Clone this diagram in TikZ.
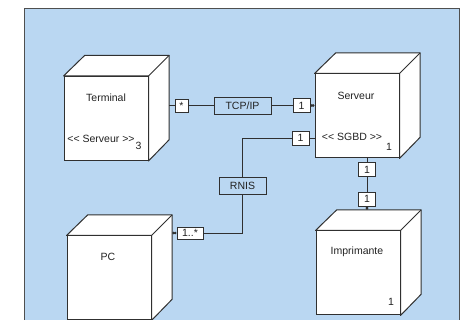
\documentclass[tikz,border=0pt]{standalone}
\usepackage{fontspec}
\setmainfont{Liberation Sans}
\usetikzlibrary{positioning,arrows.meta}
\definecolor{DiagBlue}{HTML}{BAD7F2}
\definecolor{DiagLine}{HTML}{303030}
\definecolor{DiagText}{HTML}{222222}

% one device: front face node #1, hidden back face #1back, centre (#2,#3)
\newcommand{\devicecube}[3]{%
  \node[face] (#1) at (#2,#3) {};
  \node[backface] (#1back) at ({#2+21},{#3-21}) {};
  \draw[draw=DiagLine,fill=white,line width=1pt,line join=round]
    (#1.north west) -- (#1back.north west) -- (#1back.north east)
    -- (#1back.south east) -- (#1.south east) -- (#1.north east) -- cycle;
  \draw[draw=DiagLine,line width=1pt] (#1.north east) -- (#1back.north east);
}

\begin{document}
\begin{tikzpicture}[x=1pt,y=-1pt,
  font=\fontsize{10.5}{12}\selectfont,text=DiagText,
  face/.style={draw=DiagLine,fill=white,line width=1pt,minimum width=84pt,minimum height=84pt,inner sep=0pt},
  backface/.style={minimum width=84pt,minimum height=84pt,inner sep=0pt},
  multbox/.style={draw=DiagLine,fill=white,line width=0.9pt,minimum width=17pt,minimum height=14pt,inner sep=1pt},
  linkbox/.style={draw=DiagLine,fill=DiagBlue,line width=0.9pt,minimum width=57pt,minimum height=17pt,inner sep=1pt},
  link/.style={draw=DiagLine,line width=0.9pt,{Circle[length=2.6pt]}-{Circle[length=2.6pt]}}]
  \useasboundingbox (0,0) rectangle (464,320);
  \draw[fill=DiagBlue,draw=DiagLine!85,line width=0.9pt] (24,8) rectangle (459,336);

  % devices
  \devicecube{term}{106}{118.5}
  \devicecube{serv}{357}{116}
  \devicecube{impr}{358}{273}
  \devicecube{pc}{109}{278}

  \node (termname) at (106,97.5) {Terminal};
  \node (termstereo) at (101,139) {<{}< Serveur >{}>};
  \node (termcount) at (138.5,146) {3};
  \node (servname) at (356,95.5) {Serveur};
  \node (servstereo) at (352,137) {<{}< SGBD >{}>};
  \node (servcount) at (389,146.5) {1};
  \node (imprname) at (357,252) {Imprimante};
  \node (imprcount) at (391,302) {1};
  \node (pcname) at (108,257) {PC};

  % multiplicities and links
  \node[multbox,minimum width=13pt,minimum height=13pt] (termmult) at (181.5,105.5) {*};
  \node[linkbox] (tcpip) at (242.5,105.5) {TCP/IP};
  \node[multbox] (servmulta) at (301.5,105.5) {1};
  \node[multbox] (servmultb) at (300.5,138) {1};
  \node[linkbox,minimum width=47pt] (rnis) at (242.5,185.5) {RNIS};
  \node[multbox,minimum width=26pt,minimum height=12pt] (pcmult) at (190,233) {1..*};
  \node[multbox] (servmultc) at (367,169.5) {1};
  \node[multbox] (imprmult) at (367,199) {1};

  \draw[link] (termmult.west -| termback.east) -- (termmult) -- (tcpip) -- (servmulta) -- (servmulta.east -| serv.west);
  \draw[link] (servmultb.east -| serv.west) -- (servmultb) -| (rnis) |- (pcmult) -- (pcmult.west -| pcback.east);
  \draw[link] (servmultc |- serv.south) -- (servmultc) -- (imprmult) -- (imprmult |- imprback.north);
\end{tikzpicture}
\end{document}
